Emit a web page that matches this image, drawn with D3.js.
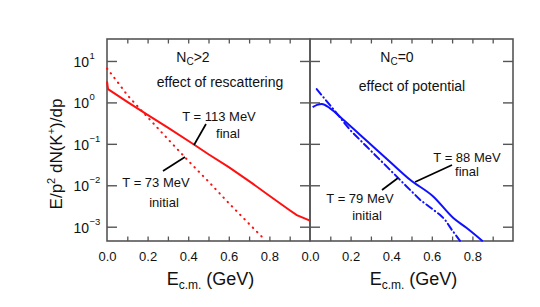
<!DOCTYPE html>
<html>
<head>
<meta charset="utf-8">
<script src="https://cdn.jsdelivr.net/npm/d3@7"></script>
<style>
  body { margin: 0; background: #fff; }
  text { font-family: "Liberation Sans", Arial, sans-serif; fill: #111; }
</style>
</head>
<body>
<div id="chart"></div>
<script>
// Values (E in GeV, yield in arbitrary units)
const rescatFinalE = [0.0, 0.005, 0.1, 0.2, 0.3, 0.43, 0.5, 0.6, 0.7, 0.8, 0.9, 0.935, 1.0];
const rescatFinalY = [3.2, 2.1, 1.03, 0.5, 0.245, 0.095, 0.056, 0.0275, 0.0126, 0.0056, 0.0025, 0.0019, 0.0014];

const rescatInitE = [0.0, 0.05, 0.1, 0.15, 0.2, 0.3, 0.4, 0.5, 0.6, 0.7, 0.775];
const rescatInitY = [6.6, 3.2, 1.5, 0.81, 0.44, 0.13, 0.039, 0.0123, 0.0037, 0.00117, 0.0005];

const potFinalE = [0.013, 0.035, 0.058, 0.099, 0.164, 0.246, 0.328, 0.41, 0.493, 0.607, 0.706, 0.772, 0.851];
const potFinalY = [0.766, 0.87, 0.92, 0.72, 0.38, 0.166, 0.0716, 0.0312, 0.0136, 0.00537, 0.00162, 0.00093, 0.000447];

const potInitE = [0.033, 0.115, 0.197, 0.279, 0.361, 0.46, 0.542, 0.64, 0.665, 0.698, 0.739];
const potInitY = [2.09, 0.685, 0.217, 0.086, 0.0343, 0.0112, 0.00447, 0.00195, 0.00148, 0.00085, 0.000457];

const xTicksMajor = [0, 0.2, 0.4, 0.6, 0.8];
const xTicksMinor = [0.1, 0.2, 0.3, 0.4, 0.5, 0.6, 0.7, 0.8, 0.9];
const yTickExp = [1, 0, -1, -2, -3];

const width = 540, height = 307;
const plotTop = 39, plotBottom = 241;
const panels = [
  { x0: 107, x1: 310 },
  { x0: 310, x1: 513 }
];

const svg = d3.select('#chart').append('svg')
  .attr('width', width)
  .attr('height', height);

const y = d3.scaleLog()
  .domain([Math.pow(10, -3.345), Math.pow(10, 1.53)])
  .range([plotBottom, plotTop]);

const frameColor = '#555';

// x scales for both panels
const xs = panels.map(p => d3.scaleLinear().domain([0, 1]).range([p.x0, p.x1]));

// frames
panels.forEach((p, i) => {
  svg.append('rect')
    .attr('x', p.x0).attr('y', plotTop)
    .attr('width', p.x1 - p.x0).attr('height', plotBottom - plotTop)
    .attr('fill', 'none')
    .attr('stroke', frameColor)
    .attr('stroke-width', 1.6);

  const x = xs[i];
  // minor ticks top and bottom
  svg.append('g')
    .attr('transform', `translate(0,${plotBottom})`)
    .call(d3.axisBottom(x).tickValues(xTicksMinor).tickSize(-4.5).tickFormat(''))
    .call(g => g.select('.domain').remove())
    .call(g => g.selectAll('line').attr('stroke', frameColor).attr('stroke-width', 1.3));
  svg.append('g')
    .attr('transform', `translate(0,${plotTop})`)
    .call(d3.axisTop(x).tickValues(xTicksMinor).tickSize(-4.5).tickFormat(''))
    .call(g => g.select('.domain').remove())
    .call(g => g.selectAll('line').attr('stroke', frameColor).attr('stroke-width', 1.3));

  // tick labels
  svg.append('g')
    .attr('transform', `translate(0,${plotBottom})`)
    .call(d3.axisBottom(x).tickValues(xTicksMajor).tickSize(0).tickPadding(11).tickFormat(d3.format('.1f')))
    .call(g => g.select('.domain').remove())
    .call(g => g.selectAll('text').style('font-size', '13px').attr('fill', '#111'));

  // x title
  const t = svg.append('text')
    .attr('x', (p.x0 + p.x1) / 2 + 2)
    .attr('y', 285)
    .attr('text-anchor', 'middle')
    .style('font-size', '18px');
  t.append('tspan').text('E');
  t.append('tspan').attr('dy', 4).style('font-size', '12px').text('c.m.');
  t.append('tspan').attr('dy', -4).text(' (GeV)');
});

// y ticks: left inward, middle both sides, right inward
const yTickVals = yTickExp.map(e => Math.pow(10, e));
svg.append('g')
  .attr('transform', `translate(${panels[0].x0},0)`)
  .call(d3.axisRight(y).tickValues(yTickVals).tickSize(10).tickFormat(''))
  .call(g => g.select('.domain').remove())
  .call(g => g.selectAll('line').attr('stroke', frameColor).attr('stroke-width', 1.4));
svg.append('g')
  .attr('transform', `translate(${panels[1].x0 - 10},0)`)
  .call(d3.axisRight(y).tickValues(yTickVals).tickSize(20).tickFormat(''))
  .call(g => g.select('.domain').remove())
  .call(g => g.selectAll('line').attr('stroke', frameColor).attr('stroke-width', 1.4));
svg.append('g')
  .attr('transform', `translate(${panels[1].x1},0)`)
  .call(d3.axisLeft(y).tickValues(yTickVals).tickSize(10).tickFormat(''))
  .call(g => g.select('.domain').remove())
  .call(g => g.selectAll('line').attr('stroke', frameColor).attr('stroke-width', 1.4));

// y tick labels 10^n
yTickExp.forEach(e => {
  svg.append('text')
    .attr('x', 89)
    .attr('y', y(Math.pow(10, e)) + 6)
    .attr('text-anchor', 'end')
    .style('font-size', '14px')
    .text('10');
  svg.append('text')
    .attr('x', 89.5)
    .attr('y', y(Math.pow(10, e)) - 2)
    .style('font-size', '9.5px')
    .text(e < 0 ? '\u2212' + (-e) : String(e));
});

// y title
const yt = svg.append('text')
  .attr('transform', 'translate(62,154) rotate(-90)')
  .attr('text-anchor', 'middle')
  .style('font-size', '17px');
yt.append('tspan').text('E/p');
yt.append('tspan').attr('dy', -7).style('font-size', '11px').text('2');
yt.append('tspan').attr('dy', 7).text(' dN(K');
yt.append('tspan').attr('dy', -7).style('font-size', '11px').text('+');
yt.append('tspan').attr('dy', 7).text(')/dp');

// curves
function curve(xScale, es, vs, color, dash, smooth) {
  const line = d3.line()
    .x(d => xScale(d[0]))
    .y(d => y(d[1]))
    .curve(smooth ? d3.curveMonotoneX : d3.curveLinear);
  svg.append('path')
    .datum(es.map((e, i) => [e, vs[i]]))
    .attr('d', line)
    .attr('fill', 'none')
    .attr('stroke', color)
    .attr('stroke-width', 2)
    .attr('stroke-linecap', dash ? 'round' : 'butt')
    .attr('stroke-dasharray', dash || null);
}
curve(xs[0], rescatFinalE, rescatFinalY, '#ff1010', null, false);
curve(xs[0], rescatInitE, rescatInitY, '#ff1010', '0.5,5.5', false);
curve(xs[1], potFinalE, potFinalY, '#1010ff', null, true);
curve(xs[1], potInitE, potInitY, '#1010ff', '7,3.5,0.5,3.5', false);

// annotations
function label(x, yy, parts, size) {
  const t = svg.append('text')
    .attr('x', x).attr('y', yy)
    .attr('text-anchor', 'middle')
    .style('font-size', size + 'px');
  parts.forEach(p => {
    const s = t.append('tspan').text(p.t);
    if (p.sub) s.attr('dy', 3).style('font-size', (size - 4) + 'px');
    if (p.back) s.attr('dy', -3);
  });
}
function pointer(x1, y1, x2, y2) {
  svg.append('line')
    .attr('x1', x1).attr('y1', y1).attr('x2', x2).attr('y2', y2)
    .attr('stroke', '#000').attr('stroke-width', 1.7);
}

label(193, 62, [{ t: 'N' }, { t: 'C', sub: true }, { t: '>2', back: true }], 14);
label(220, 87, [{ t: 'effect of rescattering' }], 14);
label(219, 121, [{ t: 'T = 113 MeV' }], 13);
label(228, 138, [{ t: 'final' }], 13);
pointer(206, 124, 194, 145);
label(156, 187, [{ t: 'T = 73 MeV' }], 13);
label(164, 207, [{ t: 'initial' }], 13);
pointer(163, 171, 185, 157);

label(397, 62, [{ t: 'N' }, { t: 'C', sub: true }, { t: '=0', back: true }], 14);
label(412, 91, [{ t: 'effect of potential' }], 14);
label(467, 162, [{ t: 'T = 88 MeV' }], 13);
label(467, 176, [{ t: 'final' }], 13);
pointer(452, 165, 415, 182);
label(360, 203, [{ t: 'T = 79 MeV' }], 13);
label(367, 220, [{ t: 'initial' }], 13);
pointer(382, 190, 398, 178);
</script>
</body>
</html>
